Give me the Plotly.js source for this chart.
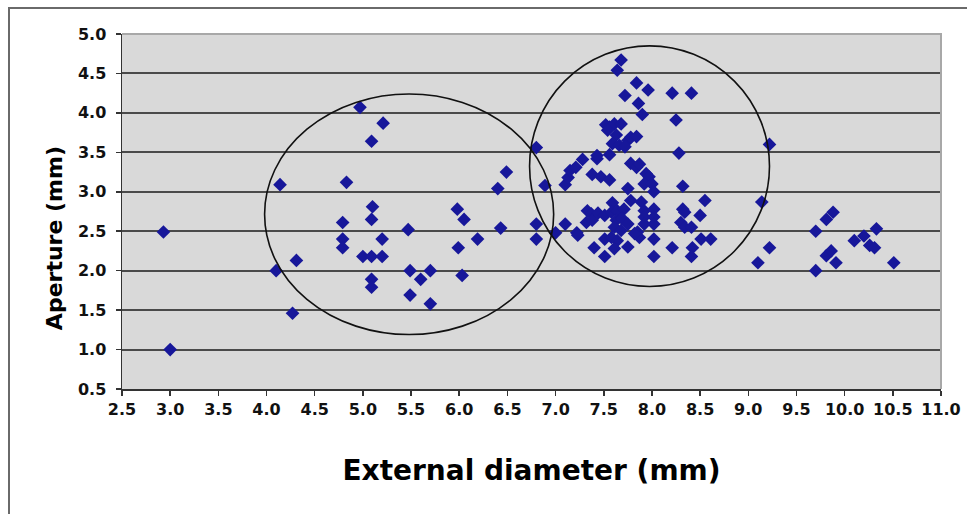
<!DOCTYPE html>
<html>
<head>
<meta charset="utf-8">
<script src="https://cdn.plot.ly/plotly-3.0.1.min.js"></script>
<style>
  html, body { margin: 0; padding: 0; background: #ffffff; }
  #wrap { position: relative; width: 967px; height: 514px; overflow: hidden; }
  #chart { position: absolute; left: 0; top: 0; width: 967px; height: 514px; }
  #frameTop { position: absolute; left: 9px; top: 7px; width: 958px; height: 0; border-top: 2px solid #6a6a6a; }
  #frameLeft { position: absolute; left: 8px; top: 7px; width: 0; height: 507px; border-left: 2px solid #6a6a6a; }
</style>
</head>
<body>
<div id="wrap">
  <div id="chart"></div>
  <div id="frameTop"></div>
  <div id="frameLeft"></div>
</div>
<script>
// External diameter (mm)
const externalDiameter = [
  2.93, 3.00, 4.14, 4.10, 4.31, 4.27,
  4.97, 5.21, 5.09, 4.83, 5.10, 5.09, 4.79, 4.79, 4.79, 5.20, 5.47, 5.00, 5.09, 5.20,
  5.09, 5.09, 5.49, 5.60, 5.70, 5.49, 5.70, 5.98, 6.05, 5.99, 6.03, 6.19, 6.40, 6.49,
  6.43, 6.80, 6.89, 6.80, 6.80,
  7.00, 7.10, 7.22, 7.10, 7.13, 7.15, 7.21, 7.28, 7.43, 7.43, 7.56, 7.38, 7.47, 7.56,
  7.52, 7.56, 7.61, 7.68, 7.54, 7.63, 7.59, 7.66, 7.75, 7.78, 7.84, 7.72,
  7.68, 7.64, 7.72, 7.84, 7.96, 7.86, 7.90, 8.21, 8.41, 8.25, 8.28, 8.32,
  7.78, 7.84, 7.87, 7.94, 7.97, 7.92, 8.00, 8.02, 7.75, 7.78, 7.59, 7.89, 7.92, 8.02,
  7.92, 8.02, 7.92, 8.02, 7.85, 7.87, 8.02, 8.02,
  7.33, 7.37, 7.32, 7.38, 7.44, 7.51, 7.58, 7.64, 7.71, 7.63, 7.69, 7.61, 7.68, 7.75,
  7.51, 7.58, 7.64, 7.61, 7.75, 7.40, 7.51, 7.82, 7.23,
  8.21, 8.32, 8.34, 8.30, 8.34, 8.41, 8.42, 8.41, 8.51, 8.50, 8.55, 8.61,
  9.22, 9.14, 9.22, 9.10, 9.70, 9.70, 9.81, 9.88, 9.81, 9.86, 9.91,
  10.10, 10.20, 10.33, 10.26, 10.31, 10.51
];
// Aperture (mm)
const aperture = [
  2.49, 1.00, 3.09, 2.00, 2.13, 1.46,
  4.07, 3.87, 3.64, 3.12, 2.81, 2.65, 2.61, 2.40, 2.29, 2.40, 2.52, 2.18, 2.18, 2.18,
  1.89, 1.79, 2.00, 1.89, 2.00, 1.69, 1.58, 2.78, 2.65, 2.29, 1.94, 2.40, 3.04, 3.25,
  2.54, 3.56, 3.08, 2.59, 2.40,
  2.48, 2.59, 2.48, 3.09, 3.18, 3.27, 3.31, 3.41, 3.42, 3.46, 3.47, 3.22, 3.19, 3.15,
  3.85, 3.82, 3.86, 3.86, 3.78, 3.72, 3.61, 3.59, 3.65, 3.69, 3.70, 3.57,
  4.67, 4.54, 4.22, 4.38, 4.29, 4.12, 3.98, 4.25, 4.25, 3.91, 3.49, 3.07,
  3.36, 3.31, 3.35, 3.23, 3.19, 3.10, 3.10, 3.00, 3.04, 2.89, 2.86, 2.87, 2.76, 2.78,
  2.68, 2.68, 2.59, 2.59, 2.49, 2.42, 2.40, 2.18,
  2.76, 2.72, 2.61, 2.64, 2.73, 2.70, 2.74, 2.76, 2.78, 2.64, 2.66, 2.55, 2.51, 2.59,
  2.40, 2.42, 2.38, 2.28, 2.30, 2.29, 2.18, 2.47, 2.45,
  2.29, 2.78, 2.74, 2.61, 2.55, 2.55, 2.29, 2.18, 2.40, 2.70, 2.89, 2.40,
  3.60, 2.87, 2.29, 2.10, 2.50, 2.00, 2.65, 2.74, 2.19, 2.25, 2.10,
  2.38, 2.44, 2.53, 2.32, 2.29, 2.10
];
// Tick labels
const xTickVals = [2.5, 3.0, 3.5, 4.0, 4.5, 5.0, 5.5, 6.0, 6.5, 7.0, 7.5, 8.0, 8.5, 9.0, 9.5, 10.0, 10.5, 11.0];
const xTickText = ["2.5", "3.0", "3.5", "4.0", "4.5", "5.0", "5.5", "6.0", "6.5", "7.0", "7.5", "8.0", "8.5", "9.0", "9.5", "10.0", "10.5", "11.0"];
const yTickVals = [0.5, 1.0, 1.5, 2.0, 2.5, 3.0, 3.5, 4.0, 4.5, 5.0];
const yTickText = ["0.5", "1.0", "1.5", "2.0", "2.5", "3.0", "3.5", "4.0", "4.5", "5.0"];
const xTitle = 'External diameter (mm)';
const yTitle = 'Aperture (mm)';
// Cluster outlines (data extents: x0, x1, y0, y1)
const clusterSmall = [3.98, 6.98, 1.19, 4.24];
const clusterLarge = [6.73, 9.22, 1.80, 4.85];

const fontFam = '"DejaVu Sans", Verdana, sans-serif';

const trace = {
  type: 'scatter',
  mode: 'markers',
  x: externalDiameter,
  y: aperture,
  marker: { symbol: 'diamond', size: 10.5, color: '#17179a', line: { width: 0 } },
  hoverinfo: 'x+y',
  showlegend: false
};

function ellipse(c) {
  return { type: 'circle', xref: 'x', yref: 'y', x0: c[0], x1: c[1], y0: c[2], y1: c[3],
           line: { color: '#111111', width: 1.6 }, layer: 'above' };
}

const layout = {
  width: 967,
  height: 514,
  margin: { l: 122, r: 26, t: 34, b: 125 },
  paper_bgcolor: '#ffffff',
  plot_bgcolor: '#d9d9d9',
  showlegend: false,
  xaxis: {
    range: [2.5, 11.0],
    tickmode: 'array',
    tickvals: xTickVals,
    ticktext: xTickText,
    ticks: 'outside',
    ticklen: 5,
    tickwidth: 1.5,
    tickcolor: '#333333',
    showgrid: false,
    zeroline: false,
    showline: true,
    linecolor: '#333333',
    linewidth: 1.5,
    tickfont: { family: fontFam, size: 16, color: '#111111', weight: 'bold' },
    title: { text: xTitle, font: { family: fontFam, size: 28, color: '#000000', weight: 'bold' }, standoff: 42 }
  },
  yaxis: {
    range: [0.5, 5.0],
    tickmode: 'array',
    tickvals: yTickVals,
    ticktext: yTickText,
    ticks: 'outside',
    ticklen: 5,
    tickwidth: 1.5,
    tickcolor: '#333333',
    ticklabelstandoff: 6,
    showgrid: true,
    gridcolor: '#4a4a4a',
    gridwidth: 2,
    zeroline: false,
    showline: true,
    linecolor: '#333333',
    linewidth: 1.5,
    tickfont: { family: fontFam, size: 16, color: '#111111', weight: 'bold' },
    title: { text: '' }
  },
  annotations: [
    { text: yTitle, xref: 'paper', yref: 'paper', x: -0.083, y: 0.425, xanchor: 'center', yanchor: 'middle',
      textangle: -90, showarrow: false,
      font: { family: fontFam, size: 22, color: '#000000', weight: 'bold' } }
  ],
  shapes: [
    { type: 'path', xref: 'paper', yref: 'paper', path: 'M0,1 L1,1 L1,0', line: { color: '#a8a8a8', width: 2 }, layer: 'above' },
    ellipse(clusterSmall),
    ellipse(clusterLarge)
  ]
};

Plotly.newPlot('chart', [trace], layout, { displayModeBar: false, staticPlot: true });
</script>
</body>
</html>
